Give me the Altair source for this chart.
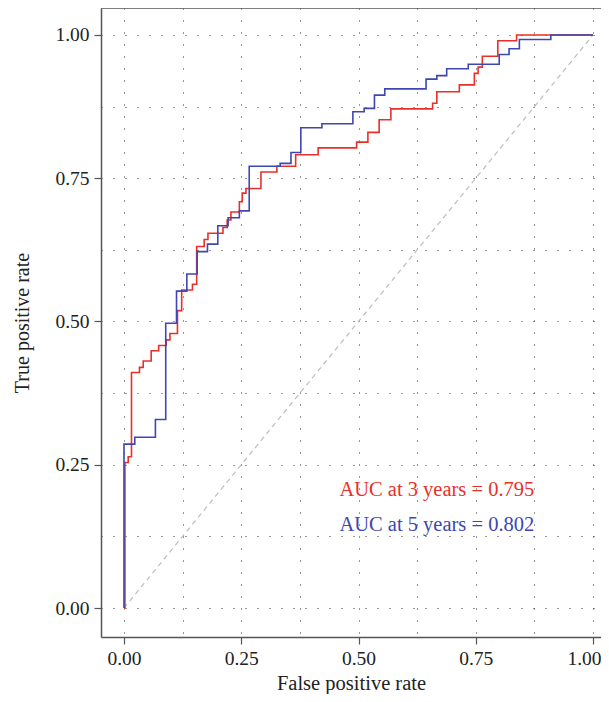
import altair as alt
import pandas as pd

# ROC curve corner points (step-after)
fpr_3y = [0.0, 0.002, 0.009, 0.016, 0.033, 0.041, 0.058, 0.074, 0.090, 0.098,
          0.114, 0.123, 0.146, 0.155, 0.171, 0.179, 0.211, 0.220, 0.228, 0.246,
          0.252, 0.260, 0.292, 0.326, 0.366, 0.414, 0.496, 0.520, 0.544, 0.569,
          0.658, 0.667, 0.715, 0.747, 0.755, 0.764, 0.797, 0.837, 1.0]
tpr_3y = [0.0, 0.254, 0.264, 0.411, 0.420, 0.431, 0.449, 0.458, 0.468, 0.479,
          0.519, 0.555, 0.565, 0.631, 0.643, 0.654, 0.664, 0.677, 0.691, 0.709,
          0.724, 0.732, 0.761, 0.771, 0.791, 0.803, 0.813, 0.830, 0.852, 0.871,
          0.881, 0.901, 0.913, 0.933, 0.944, 0.963, 0.990, 1.0, 1.0]

fpr_5y = [0.0, 0.0, 0.023, 0.067, 0.089, 0.112, 0.134, 0.156, 0.178, 0.200,
          0.222, 0.246, 0.267, 0.333, 0.356, 0.377, 0.422, 0.488, 0.512, 0.534,
          0.556, 0.644, 0.667, 0.688, 0.734, 0.800, 0.821, 0.843, 0.910, 1.0]
tpr_5y = [0.0, 0.286, 0.298, 0.329, 0.497, 0.553, 0.583, 0.622, 0.635, 0.667,
          0.681, 0.693, 0.771, 0.776, 0.795, 0.838, 0.845, 0.866, 0.872, 0.895,
          0.906, 0.923, 0.929, 0.941, 0.949, 0.966, 0.976, 0.992, 1.0, 1.0]

series_names = ["3 years", "5 years"]
series_colors = ["#E8302A", "#3E46B2"]
auc_labels = ["AUC at 3 years = 0.795", "AUC at 5 years = 0.802"]
diag = [0.0, 1.0]
tick_vals = [k / 8 for k in range(9)]

rows = []
for name, xs, ys in [(series_names[0], fpr_3y, tpr_3y), (series_names[1], fpr_5y, tpr_5y)]:
    for i, (a, b) in enumerate(zip(xs, ys)):
        rows.append({"fpr": a, "tpr": b, "curve": name, "i": i})
curves = pd.DataFrame(rows)
diag_df = pd.DataFrame({"fpr": diag, "tpr": diag})
one_row = pd.DataFrame({"k": [0]})

W, H = 500, 629
FONT = "Liberation Serif"
minor_hide = {"condition": {"test": "datum.value % 0.25 != 0", "value": 0}, "value": 1}
label_expr = "datum.value % 0.25 == 0 ? format(datum.value, '.2f') : ''"

common_axis = dict(
    values=tick_vals, labelExpr=label_expr, grid=True, gridDash=[1, 11],
    gridColor="#333333", gridWidth=1, tickSize=7, tickColor="#555555",
    tickWidth=1.2, tickOpacity=minor_hide, domainColor="#555555", domainWidth=1.5,
    labelFont=FONT, labelFontSize=19.5, labelColor="#222222", labelPadding=5,
    labelOverlap=False, titleFont=FONT,
    titleFontWeight="normal", titleColor="#222222",
)
xaxis = alt.Axis(title="False positive rate", titlePadding=6, titleFontSize=20.5,
                 labelFlush=10, labelFlushOffset=8, **common_axis)
yaxis = alt.Axis(title="True positive rate", titlePadding=22, titleFontSize=20,
                 labelFlush=False, **common_axis)

X = alt.X("fpr:Q", scale=alt.Scale(domain=[-0.049, 1.017], nice=False, zero=False), axis=xaxis)
Y = alt.Y("tpr:Q", scale=alt.Scale(domain=[-0.0506, 1.0471], nice=False, zero=False), axis=yaxis)

diag_layer = alt.Chart(diag_df).mark_line(
    color="#BDBDBD", strokeWidth=1.2, strokeDash=[5, 4]
).encode(x=X, y=Y)

color = alt.Color("curve:N", scale=alt.Scale(domain=series_names, range=series_colors), legend=None)

red_layer = alt.Chart(curves[curves.curve == series_names[0]]).mark_line(
    interpolate="step-after", strokeWidth=1.6
).encode(x=X, y=Y, color=color, order=alt.Order("i:Q"))
blue_layer = alt.Chart(curves[curves.curve == series_names[1]]).mark_line(
    interpolate="step-after", strokeWidth=1.6
).encode(x=X, y=Y, color=color, order=alt.Order("i:Q"))

t1 = alt.Chart(one_row).mark_text(
    text=auc_labels[0], font=FONT, fontSize=20.5, color=series_colors[0], align="center", baseline="middle"
).encode(x=alt.datum(0.667), y=alt.datum(0.206))
t2 = alt.Chart(one_row).mark_text(
    text=auc_labels[1], font=FONT, fontSize=20.5, color=series_colors[1], align="center", baseline="middle"
).encode(x=alt.datum(0.667), y=alt.datum(0.145))

# top frame line of the panel
top_border = alt.Chart(one_row).mark_rule(color="#555555", strokeWidth=1.5).encode(
    x=alt.value(0), x2=alt.value(W), y=alt.value(0)
)

chart = alt.layer(diag_layer, red_layer, blue_layer, t1, t2, top_border).properties(
    width=W, height=H,
    autosize=alt.AutoSizeParams(type="none"),
    padding={"left": 93, "top": 0, "right": 0, "bottom": 57},
).configure_view(strokeWidth=0)

chart.save("out.html", embed_options={"renderer": "svg", "actions": False})
